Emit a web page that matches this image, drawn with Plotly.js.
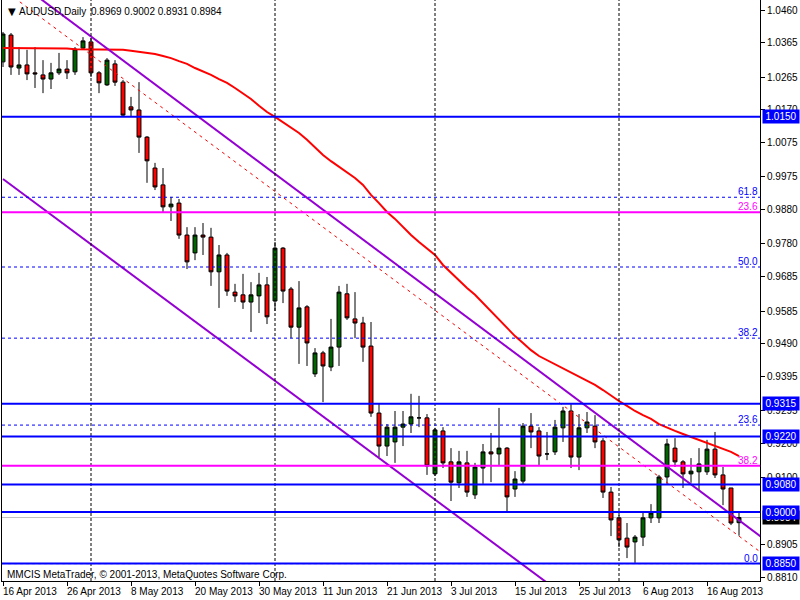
<!DOCTYPE html>
<html>
<head>
<meta charset="utf-8">
<script src="https://cdn.plot.ly/plotly-3.0.1.min.js"></script>
<style>html,body{margin:0;padding:0;background:#fff;}</style>
</head>
<body>
<div id="chart" style="width:800px;height:600px;"></div>
<script>
// ---- Data (AUDUSD daily, bars 16 Apr 2013 .. 22 Aug 2013) ----
const symbol = "AUDUSD,Daily";
const openP = [1.0310,1.0388,1.0292,1.0301,1.0278,1.0272,1.0260,1.0278,1.0289,1.0281,
1.0350,1.0368,1.0278,1.0243,1.0304,1.0251,1.0179,1.0170,1.0091,1.0001,
0.9952,0.9888,0.9899,0.9806,0.9754,0.9806,0.9800,0.9699,0.9748,0.9640,
0.9632,0.9611,0.9629,0.9661,0.9614,0.9768,0.9649,0.9538,0.9597,0.9402,
0.9463,0.9422,0.9480,0.9635,0.9562,0.9550,0.9483,0.9288,0.9192,0.9204,
0.9247,0.9256,0.9274,0.9274,0.9111,0.9236,0.9146,0.9085,0.9143,0.9050,
0.9128,0.9175,0.9169,0.9186,0.9067,0.9090,0.9250,0.9236,0.9169,0.9175,
0.9245,0.9294,0.9160,0.9245,0.9250,0.9207,0.9058,0.8983,0.8924,0.8913,
0.8927,0.8983,0.8983,0.9102,0.9186,0.9146,0.9111,0.9117,0.9117,0.9183,
0.9108,0.9070,0.8969];
const highP = [1.0397,1.0394,1.0353,1.0345,1.0353,1.0315,1.0307,1.0336,1.0315,1.0353,
1.0382,1.0379,1.0283,1.0321,1.0315,1.0257,1.0208,1.0251,1.0094,1.0016,
1.0001,0.9917,0.9911,0.9829,0.9829,0.9841,0.9827,0.9777,0.9754,0.9664,
0.9693,0.9669,0.9696,0.9684,0.9786,0.9771,0.9655,0.9672,0.9602,0.9477,
0.9469,0.9562,0.9658,0.9664,0.9640,0.9568,0.9553,0.9317,0.9256,0.9294,
0.9294,0.9344,0.9338,0.9285,0.9245,0.9247,0.9186,0.9178,0.9178,0.9143,
0.9198,0.9230,0.9303,0.9189,0.9119,0.9259,0.9288,0.9247,0.9233,0.9268,
0.9306,0.9314,0.9285,0.9291,0.9282,0.9215,0.9073,0.8991,0.8968,0.8933,
0.9003,0.9023,0.9108,0.9213,0.9215,0.9151,0.9157,0.9186,0.9210,0.9233,
0.9131,0.9070,0.9002];
const lowP = [1.0295,1.0272,1.0272,1.0257,1.0234,1.0219,1.0231,1.0272,1.0260,1.0272,
1.0345,1.0266,1.0219,1.0240,1.0240,1.0150,1.0150,1.0045,0.9958,0.9937,
0.9873,0.9847,0.9795,0.9707,0.9733,0.9748,0.9658,0.9594,0.9629,0.9611,
0.9591,0.9524,0.9579,0.9547,0.9585,0.9608,0.9506,0.9431,0.9425,0.9393,
0.9320,0.9410,0.9425,0.9559,0.9506,0.9437,0.9277,0.9160,0.9163,0.9143,
0.9192,0.9230,0.9247,0.9108,0.9105,0.9128,0.9032,0.9070,0.9044,0.9038,
0.9082,0.9087,0.9137,0.9000,0.9044,0.9082,0.9186,0.9137,0.9151,0.9166,
0.9204,0.9128,0.9122,0.9230,0.9186,0.9041,0.8930,0.8898,0.8866,0.8852,
0.8901,0.8968,0.8968,0.9082,0.9131,0.9070,0.9085,0.9064,0.9108,0.9099,
0.9020,0.8962,0.8931];
const closeP = [1.0391,1.0295,1.0301,1.0275,1.0275,1.0260,1.0278,1.0289,1.0278,1.0347,
1.0371,1.0278,1.0249,1.0315,1.0251,1.0155,1.0170,1.0091,1.0022,0.9946,
0.9888,0.9896,0.9806,0.9728,0.9806,0.9800,0.9699,0.9748,0.9643,0.9629,
0.9611,0.9632,0.9661,0.9568,0.9768,0.9643,0.9538,0.9594,0.9492,0.9463,
0.9425,0.9480,0.9640,0.9565,0.9550,0.9480,0.9288,0.9192,0.9247,0.9247,
0.9256,0.9277,0.9274,0.9134,0.9239,0.9143,0.9087,0.9146,0.9058,0.9131,
0.9175,0.9169,0.9186,0.9044,0.9096,0.9250,0.9233,0.9163,0.9169,0.9247,
0.9294,0.9160,0.9245,0.9262,0.9204,0.9058,0.8977,0.8919,0.8898,0.8927,
0.8983,0.8997,0.9102,0.9198,0.9146,0.9111,0.9119,0.9140,0.9183,0.9108,
0.9067,0.8968,0.8984];
const movingAvg = [1.0350,1.0350,1.0350,1.0350,1.0350,1.0350,1.0349,1.0349,1.0349,1.0347,
1.0347,1.0347,1.0347,1.0346,1.0345,1.0345,1.0342,1.0339,1.0336,1.0333,
1.0327,1.0321,1.0312,1.0304,1.0292,1.0283,1.0272,1.0260,1.0249,1.0234,
1.0219,1.0202,1.0182,1.0164,1.0150,1.0135,1.0120,1.0103,1.0083,1.0062,
1.0039,1.0021,1.0004,0.9987,0.9972,0.9952,0.9923,0.9899,0.9873,0.9853,
0.9829,0.9806,0.9786,0.9768,0.9748,0.9719,0.9696,0.9672,0.9652,0.9632,
0.9608,0.9585,0.9562,0.9538,0.9512,0.9492,0.9471,0.9454,0.9442,0.9431,
0.9419,0.9407,0.9396,0.9384,0.9370,0.9355,0.9338,0.9323,0.9309,0.9294,
0.9282,0.9271,0.9256,0.9245,0.9236,0.9227,0.9218,0.9210,0.9201,0.9192,
0.9183,0.9175,0.9163];

// Trend lines: [bar index, price] anchors
const upperChannelX = [0, 95];
const upperChannelY = [1.0575, 0.8924];
const lowerChannelX = [0, 95];
const lowerChannelY = [0.9969, 0.8328];
const midDashX = [0, 95];
const midDashY = [1.0521, 0.8878];

// Horizontal levels
const blueLevels = [1.0150, 0.9315, 0.9220, 0.9080, 0.9000, 0.8850];
const fiboBlueLevels = [0.9916, 0.9713, 0.9506, 0.9253, 0.8850];
const fiboBlueLabels = ["61.8", "50.0", "38.2", "23.6", "0.0"];
const fiboPinkLevels = [0.9872, 0.9135];
const fiboPinkLabels = ["23.6", "38.2"];
const lastPrice = 0.8984;

// Axis ticks
const dateTickBars = [0, 8, 16, 24, 32, 40, 48, 56, 64, 72, 80, 88];
const dateTickLabels = ["16 Apr 2013","26 Apr 2013","8 May 2013","20 May 2013","30 May 2013","11 Jun 2013",
  "21 Jun 2013","3 Jul 2013","15 Jul 2013","25 Jul 2013","6 Aug 2013","16 Aug 2013"];
const monthStartBars = [11, 34, 54, 77];
const priceTicks = [1.0460,1.0365,1.0265,1.0170,1.0075,0.9975,0.9880,0.9780,0.9685,0.9585,
  0.9490,0.9395,0.9295,0.9200,0.9100,0.8905,0.8810];
const copyright = "MMCIS MetaTrader, © 2001-2013, MetaQuotes Software Corp.";

// ---- Build chart ----
const barIdx = openP.map((_, i) => i);
const FONT = "Liberation Sans, Arial, sans-serif";

const traces = [
  {type:'candlestick', x:barIdx, open:openP, high:highP, low:lowP, close:closeP,
   increasing:{line:{color:'#000000', width:1}, fillcolor:'#006400'},
   decreasing:{line:{color:'#000000', width:1}, fillcolor:'#FF0000'},
   whiskerwidth:0, hoverinfo:'skip', showlegend:false},
  {type:'scatter', mode:'lines', x:barIdx, y:movingAvg, line:{color:'#FF0000', width:2}, hoverinfo:'skip'},
  {type:'scatter', mode:'lines', x:midDashX, y:midDashY, line:{color:'#FF0000', width:1, dash:'3px,4px'}, hoverinfo:'skip'},
  {type:'scatter', mode:'lines', x:upperChannelX, y:upperChannelY, line:{color:'#9400D3', width:2}, hoverinfo:'skip'},
  {type:'scatter', mode:'lines', x:lowerChannelX, y:lowerChannelY, line:{color:'#9400D3', width:2}, hoverinfo:'skip'}
];

const shapes = [];
shapes.push({type:'line', xref:'paper', x0:0, x1:1, yref:'y', y0:lastPrice, y1:lastPrice, layer:'below',
  line:{color:'#C0C0C0', width:1}});
monthStartBars.forEach(b => shapes.push({type:'line', xref:'x', x0:b, x1:b, yref:'paper', y0:0, y1:1,
  line:{color:'#000000', width:1, dash:'3px,2px'}}));
fiboBlueLevels.forEach(v => shapes.push({type:'line', xref:'paper', x0:0, x1:1, yref:'y', y0:v, y1:v,
  line:{color:'#0000FF', width:1, dash:'3px,3px'}}));
fiboPinkLevels.forEach(v => shapes.push({type:'line', xref:'paper', x0:0, x1:1, yref:'y', y0:v, y1:v,
  line:{color:'#FF00FF', width:2}}));
blueLevels.forEach(v => shapes.push({type:'line', xref:'paper', x0:0, x1:1, yref:'y', y0:v, y1:v,
  line:{color:'#0000FF', width:2}}));

const ann = [];
// header
ann.push({xref:'paper', yref:'paper', x:0, y:1, xanchor:'left', yanchor:'middle', xshift:4, yshift:-11,
  text:'▼', showarrow:false, font:{family:'DejaVu Sans', size:10, color:'#000'}});
ann.push({xref:'paper', yref:'paper', x:0, y:1, xanchor:'left', yanchor:'middle', xshift:15, yshift:-11,
  text:symbol, showarrow:false, font:{family:FONT, size:10, color:'#000'}});
const last = openP.length - 1;
ann.push({xref:'paper', yref:'paper', x:0, y:1, xanchor:'left', yanchor:'middle', xshift:87, yshift:-11,
  text:[openP[last], highP[last], lowP[last], closeP[last]].map(v => v.toFixed(4)).join(' '),
  showarrow:false, font:{family:FONT, size:10, color:'#000'}});
// copyright
ann.push({xref:'paper', yref:'paper', x:0, y:0, xanchor:'left', yanchor:'middle', xshift:3, yshift:7,
  text:copyright, showarrow:false, font:{family:FONT, size:10, color:'#000'}});
// date labels
dateTickBars.forEach((b, k) => ann.push({xref:'x', yref:'paper', x:b, y:0, xanchor:'left', yanchor:'middle',
  xshift:-2, yshift:-10, text:dateTickLabels[k], showarrow:false, font:{family:FONT, size:10, color:'#000'}}));
// fibo labels
fiboBlueLevels.forEach((v, k) => ann.push({xref:'paper', yref:'y', x:1, y:v, xanchor:'right', yanchor:'bottom',
  xshift:0, yshift:-2, text:fiboBlueLabels[k], showarrow:false, font:{family:FONT, size:10, color:'#0000FF'}}));
fiboPinkLevels.forEach((v, k) => ann.push({xref:'paper', yref:'y', x:1, y:v, xanchor:'right', yanchor:'bottom',
  xshift:0, yshift:-2, text:fiboPinkLabels[k], showarrow:false, font:{family:FONT, size:10, color:'#FF00FF'}}));
// price boxes on axis
ann.push({xref:'paper', yref:'y', x:1, y:lastPrice, xanchor:'left', yanchor:'middle', xshift:2,
  text:lastPrice.toFixed(4), showarrow:false, bgcolor:'#000000', borderpad:1, width:34,
  font:{family:FONT, size:10, color:'#FFFFFF'}});
blueLevels.forEach(v => ann.push({xref:'paper', yref:'y', x:1, y:v, xanchor:'left', yanchor:'middle', xshift:2,
  text:v.toFixed(4), showarrow:false, bgcolor:'#0000FF', borderpad:1, width:34,
  font:{family:FONT, size:10, color:'#FFFFFF'}}));

const layout = {
  width:800, height:600,
  margin:{l:2, r:40, t:0, b:19, pad:0},
  paper_bgcolor:'#FFFFFF', plot_bgcolor:'#FFFFFF',
  font:{family:FONT, size:10, color:'#000'},
  showlegend:false,
  boxgap:0.3,
  xaxis:{type:'linear', range:[-0.125, 94.625], showgrid:false, zeroline:false, showline:true,
    linecolor:'#000', linewidth:1, ticks:'outside', ticklen:4, tickcolor:'#000',
    tickvals:dateTickBars, showticklabels:false, rangeslider:{visible:false}, fixedrange:true},
  yaxis:{side:'right', range:[0.87993, 1.0490], tickvals:priceTicks,
    ticktext:priceTicks.map(v => v.toFixed(4)), ticks:'outside', ticklen:4, tickcolor:'#000',
    showline:true, mirror:true, linecolor:'#000', linewidth:1, showgrid:false, zeroline:false,
    tickfont:{family:FONT, size:10, color:'#000'}, fixedrange:true},
  shapes:shapes,
  annotations:ann
};

Plotly.newPlot('chart', traces, layout, {staticPlot:true, displayModeBar:false});
</script>
</body>
</html>
